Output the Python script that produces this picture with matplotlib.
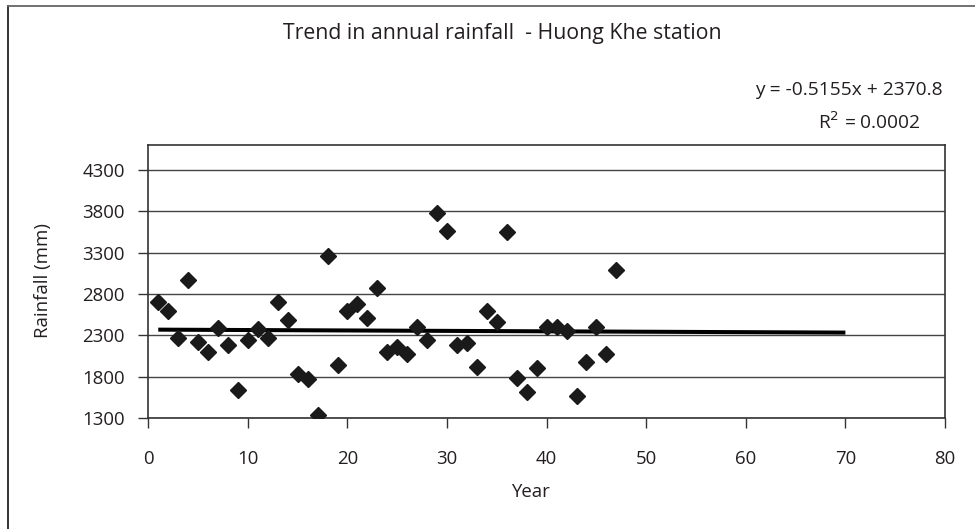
import matplotlib
matplotlib.use("Agg")
import matplotlib.pyplot as plt
from matplotlib.lines import Line2D

plt.rcParams['font.family'] = ['Open Sans', 'DejaVu Sans']

# annual rainfall (mm), years 1..47
years = list(range(1, 48))
rainfall = [2700, 2590, 2266, 2967, 2222, 2097, 2395, 2186, 1646, 2246,
            2383, 2266, 2701, 2484, 1839, 1771, 1340, 3265, 1944, 2592,
            2681, 2508, 2878, 2097, 2162, 2077, 2403, 2246, 3784, 3567,
            2186, 2210, 1924, 2592, 2463, 3546, 1791, 1618, 1904, 2403,
            2407, 2355, 1574, 1984, 2407, 2077, 3092]

# linear trend as printed on the chart, extended to year 70
slope = -0.5155
intercept = 2370.8
trend_x = [1, 70]
trend_y = [slope * x + intercept for x in trend_x]

x_ticks = list(range(0, 81, 10))
y_ticks = list(range(1300, 4301, 500))

ink = '#231f20'

fig = plt.figure(figsize=(9.75, 5.29), dpi=100)
ax = fig.add_axes([0.1521, 0.2093, 0.8171, 0.5166])

for y in y_ticks:
    ax.axhline(y, color='#444444', lw=1.0, zorder=1)

ax.plot(trend_x, trend_y, color='black', lw=2.9, zorder=2, solid_capstyle='butt')
ax.plot(years, rainfall, linestyle='none', marker='D', ms=8.5,
        color='#1a1a1a', zorder=3)

ax.set_xlim(0, 80)
ax.set_ylim(1300, 4600)
ax.set_xticks(x_ticks)
ax.set_yticks(y_ticks)
ax.tick_params(direction='out', length=7, width=1, color='#333333',
               labelsize=13.4, labelcolor=ink, pad=10)
ax.tick_params(axis='x', pad=16)
for s in ax.spines.values():
    s.set_color('#333333')
    s.set_linewidth(1.2)

fig.text(0.515, 0.937, 'Trend in annual rainfall  - Huong Khe station',
         ha='center', va='center', fontsize=15.3, color=ink)
fig.text(0.967, 0.830, 'y = -0.5155x + 2370.8', ha='right', va='center',
         fontsize=13.8, color=ink)
fig.text(0.944, 0.768, r'R$^2$ = 0.0002', ha='right', va='center',
         fontsize=13.8, color=ink)
fig.text(0.544, 0.070, 'Year', ha='center', va='center', fontsize=13.4, color=ink)
fig.text(0.044, 0.47, 'Rainfall (mm)', ha='center', va='center',
         rotation=90, fontsize=13.4, color=ink)

# outer chart border (left and top edges visible)
fig.add_artist(Line2D([7.5 / 975, 7.5 / 975], [1 - 5.5 / 529, 0],
                      transform=fig.transFigure, color='#222222', lw=1.3))
fig.add_artist(Line2D([7.5 / 975, 1], [1 - 5.5 / 529, 1 - 5.5 / 529],
                      transform=fig.transFigure, color='#666666', lw=1.3))

fig.savefig('out.png', dpi=100)
